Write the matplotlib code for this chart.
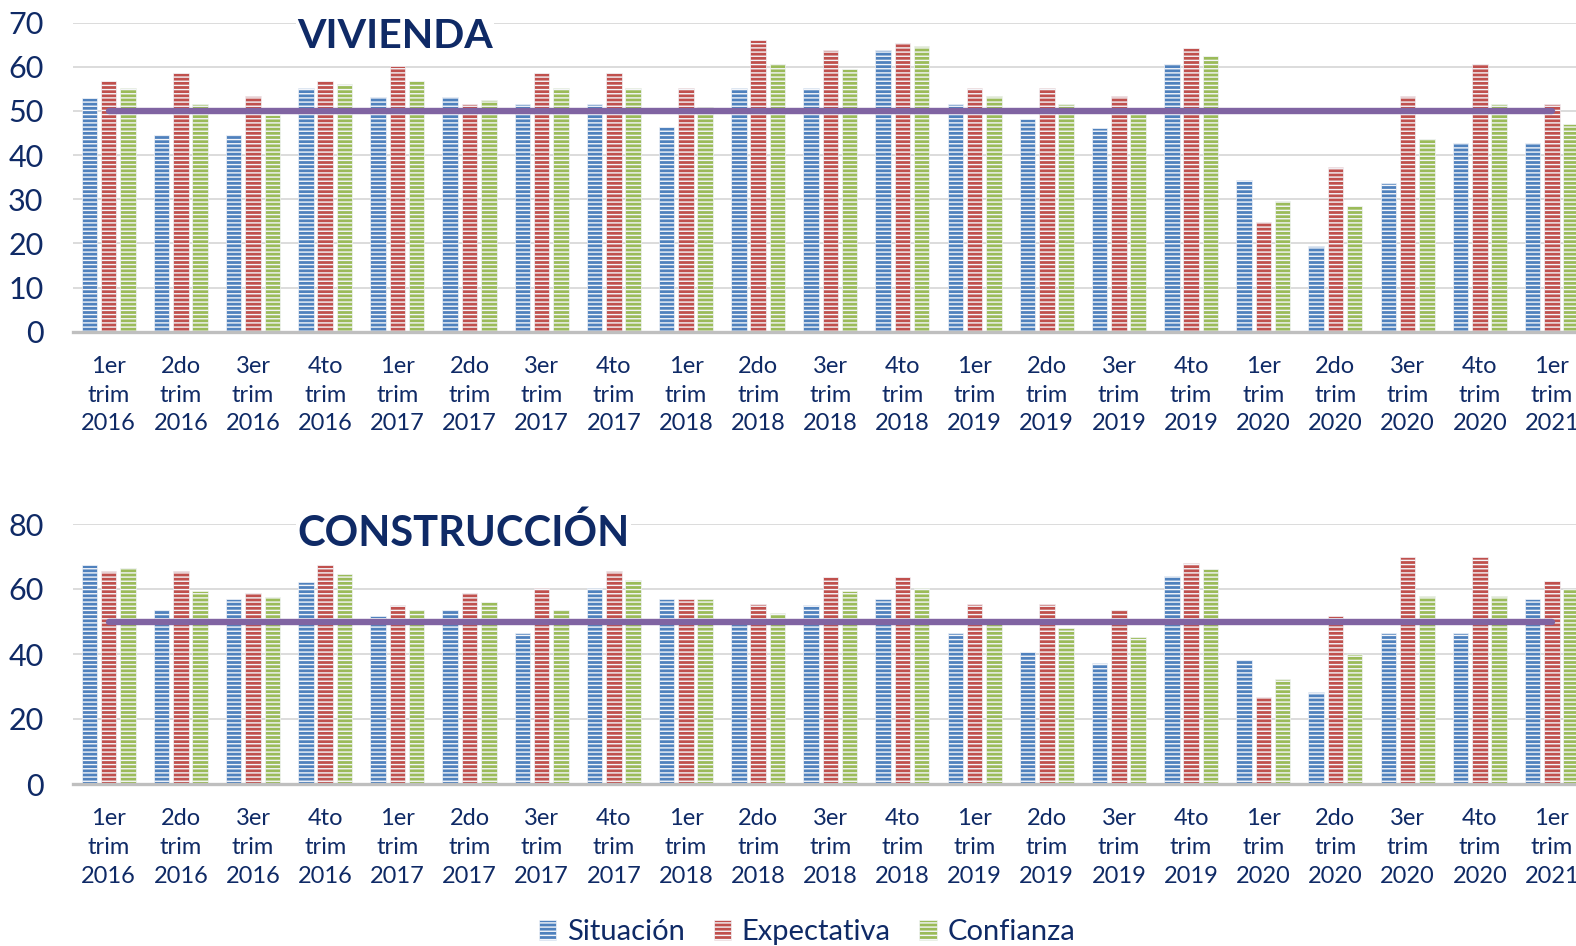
import numpy as np
import matplotlib
matplotlib.use("Agg")
import matplotlib.pyplot as plt

plt.rcParams['font.family'] = ['Lato', 'DejaVu Sans']
plt.rcParams['hatch.linewidth'] = 1.0

# categories (quarters)
trimestres = ['1er', '2do', '3er', '4to']
anios = ['2016', '2017', '2018', '2019', '2020', '2021']
categorias = [f"{t}\ntrim\n{a}" for a in anios for t in trimestres][:21]

# VIVIENDA
viv_situacion = [53.0, 44.5, 44.5, 55.1, 53.2, 53.2, 51.5, 51.5, 46.4, 55.2, 55.1,
                 63.8, 51.5, 48.1, 46.2, 60.6, 34.3, 19.4, 33.7, 42.7, 42.7]
viv_expectativa = [56.9, 58.6, 53.3, 56.9, 60.3, 51.6, 58.6, 58.6, 55.1, 66.0, 63.8,
                   65.4, 55.3, 55.3, 53.3, 64.2, 24.8, 37.2, 53.3, 60.6, 51.6]
viv_confianza = [55.2, 51.6, 49.1, 56.0, 56.9, 52.5, 55.1, 55.1, 50.8, 60.7, 59.5,
                 64.7, 53.5, 51.6, 49.5, 62.5, 29.6, 28.4, 43.6, 51.6, 47.1]

# CONSTRUCCIÓN
con_situacion = [67.3, 53.4, 56.8, 62.2, 51.6, 53.4, 46.4, 60.2, 56.8, 49.5, 55.1,
                 56.8, 46.4, 40.7, 37.1, 64.1, 38.3, 28.2, 46.4, 46.4, 57.0]
con_expectativa = [65.5, 65.5, 58.7, 67.3, 55.1, 58.7, 60.2, 65.5, 56.8, 55.3, 63.8,
                   63.8, 55.3, 55.3, 53.5, 67.9, 26.7, 51.7, 69.7, 69.7, 62.6]
con_confianza = [66.4, 59.4, 57.6, 64.6, 53.4, 56.0, 53.4, 62.8, 56.8, 52.5, 59.4,
                 60.2, 49.5, 47.9, 45.3, 66.1, 32.4, 39.9, 57.8, 57.8, 60.0]

umbral = [50] * len(categorias)

series = ['Situación', 'Expectativa', 'Confianza']
colores = ['#4f81bd', '#c0504d', '#9bbb59']
navy = '#0f2a66'

W, H = 1576, 946
fig = plt.figure(figsize=(W / 100, H / 100), dpi=100)
left = 72.6 / W
width = (1588 - 72.6) / W
ax1 = fig.add_axes([left, 1 - 331.7 / H, width, 309 / H])
ax2 = fig.add_axes([left, 1 - 784 / H, width, 260 / H])

x = np.arange(len(categorias))
step = 0.267
bw = 0.215


def draw(ax, datos, ymax, ystep):
    handles = []
    for i, (vals, c, name) in enumerate(zip(datos, colores, series)):
        h = ax.bar(x + (i - 1) * step, vals, width=bw, color=c, edgecolor='#f4f6fa',
                   linewidth=0.5, hatch='----', label=name, zorder=2)
        handles.append(h)
    ax.plot(x, umbral, color='#8064a2', lw=4.6, solid_capstyle='round', zorder=4)
    ax.set_xlim(-0.5, len(categorias) - 0.5)
    ax.set_ylim(0, ymax)
    ax.set_yticks(range(0, ymax + 1, ystep))
    ax.set_xticks(x)
    ax.set_xticklabels(categorias, fontsize=17, color=navy, linespacing=1.45)
    ax.tick_params(axis='y', length=0, pad=21, labelsize=22, labelcolor=navy)
    ax.tick_params(axis='x', length=0, pad=17.5)
    ax.yaxis.grid(True, color='#d9d9d9', lw=1.3)
    ax.set_axisbelow(True)
    for s in ['left', 'right', 'top']:
        ax.spines[s].set_visible(False)
    ax.spines['bottom'].set_color('#bfbfbf')
    ax.spines['bottom'].set_linewidth(2.4)
    ax.spines['bottom'].set_zorder(5)
    return handles


handles = draw(ax1, [viv_situacion, viv_expectativa, viv_confianza], 70, 10)
draw(ax2, [con_situacion, con_expectativa, con_confianza], 80, 20)

box = dict(facecolor='white', edgecolor='none', pad=1)
fig.text(297 / W, 1 - 36 / H, 'VIVIENDA', ha='left', va='center', fontsize=29.5,
         weight='bold', color=navy, bbox=box)
fig.text(297 / W, 1 - 533 / H, 'CONSTRUCCIÓN', ha='left', va='center', fontsize=30,
         weight='bold', color=navy, bbox=box)

leg = fig.legend(handles=handles, loc='center', bbox_to_anchor=(0.512, 1 - 932 / H),
                 ncol=3, frameon=False, fontsize=21, handlelength=0.6, handleheight=0.7,
                 handletextpad=0.35, columnspacing=1.0)
for t in leg.get_texts():
    t.set_color(navy)

fig.savefig('out.png', dpi=100)
